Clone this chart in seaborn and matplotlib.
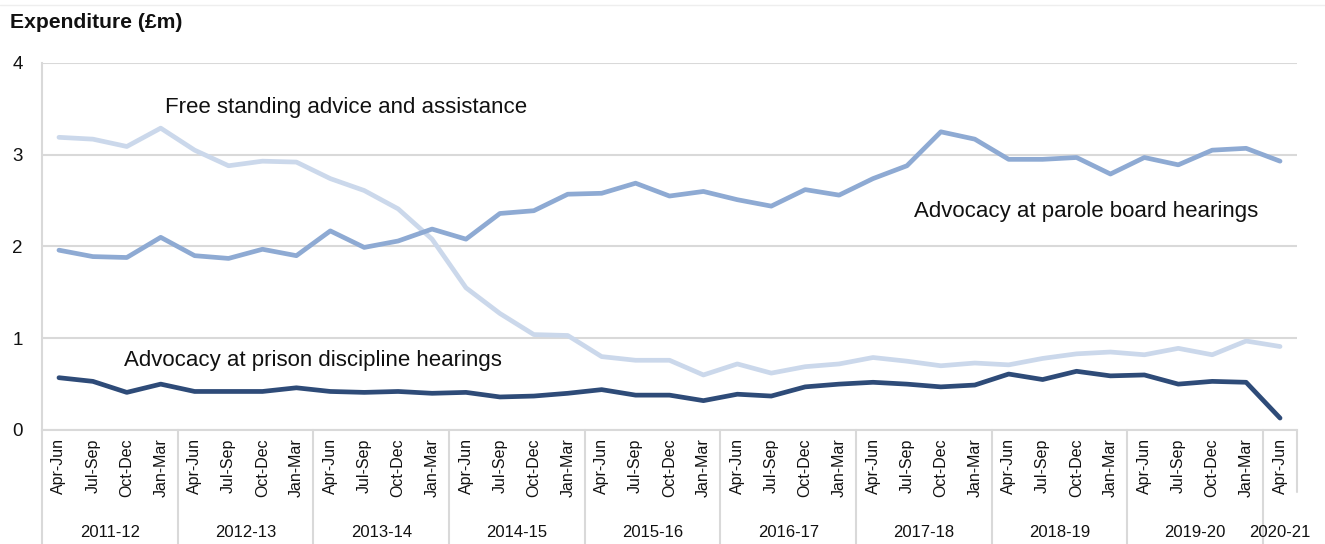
import matplotlib.pyplot as plt
import numpy as np
import pandas as pd
import seaborn as sns
from matplotlib.lines import Line2D

# quarterly expenditure, £m (Apr-Jun 2011 to Apr-Jun 2020)
quarters = ["Apr-Jun", "Jul-Sep", "Oct-Dec", "Jan-Mar"] * 9 + ["Apr-Jun"]
years = ["2011-12", "2012-13", "2013-14", "2014-15", "2015-16",
         "2016-17", "2017-18", "2018-19", "2019-20", "2020-21"]

free_standing = [3.19, 3.17, 3.09, 3.29, 3.05, 2.88, 2.93, 2.92,
                 2.74, 2.61, 2.41, 2.08, 1.55, 1.27, 1.04, 1.03,
                 0.80, 0.76, 0.76, 0.60, 0.72, 0.62, 0.69, 0.72,
                 0.79, 0.75, 0.70, 0.73, 0.71, 0.78, 0.83, 0.85,
                 0.82, 0.89, 0.82, 0.97, 0.91]
parole = [1.96, 1.89, 1.88, 2.10, 1.90, 1.87, 1.97, 1.90,
          2.17, 1.99, 2.06, 2.19, 2.08, 2.36, 2.39, 2.57,
          2.58, 2.69, 2.55, 2.60, 2.51, 2.44, 2.62, 2.56,
          2.74, 2.88, 3.25, 3.17, 2.95, 2.95, 2.97, 2.79,
          2.97, 2.89, 3.05, 3.07, 2.93]
prison = [0.57, 0.53, 0.41, 0.50, 0.42, 0.42, 0.42, 0.46,
          0.42, 0.41, 0.42, 0.40, 0.41, 0.36, 0.37, 0.40,
          0.44, 0.38, 0.38, 0.32, 0.39, 0.37, 0.47, 0.50,
          0.52, 0.50, 0.47, 0.49, 0.61, 0.55, 0.64, 0.59,
          0.60, 0.50, 0.53, 0.52, 0.13]

names = ["Free standing advice and assistance",
         "Advocacy at parole board hearings",
         "Advocacy at prison discipline hearings"]
colours = {names[0]: "#cbd8eb", names[1]: "#8eaad3", names[2]: "#2e4b78"}

n = len(quarters)
df = pd.DataFrame({
    "q": np.tile(np.arange(n), 3),
    "value": free_standing + parole + prison,
    "series": np.repeat(names, n),
})

sns.set_theme(style="white")
plt.rcParams["font.family"] = ["Liberation Sans", "DejaVu Sans"]
grey = "#d9d9d9"

fig = plt.figure(figsize=(13.25, 5.44), dpi=100)
ax = fig.add_axes([42 / 1325, 1 - 430 / 544, 1255 / 1325, 367 / 544])

sns.lineplot(data=df, x="q", y="value", hue="series", palette=colours,
             linewidth=3.4, legend=False, ax=ax, zorder=3)

ax.set_xlim(-0.5, n - 0.5)
ax.set_ylim(0, 4)
ax.set_yticks([0, 1, 2, 3, 4])
ax.set_yticklabels(["0", "1", "2", "3", "4"], fontsize=13.5, color="#111111")
ax.yaxis.grid(True, color=grey, linewidth=1.5)
ax.set_axisbelow(True)
ax.set_xticks(np.arange(n))
ax.set_xticklabels(quarters, rotation=90, fontsize=11.5, va="top", color="#111111")
ax.tick_params(axis="x", length=0, pad=6)
ax.tick_params(axis="y", length=0, pad=14)
ax.set_xlabel("")
ax.set_ylabel("")
for side in ["top", "right"]:
    ax.spines[side].set_visible(False)
for side in ["left", "bottom"]:
    ax.spines[side].set_color(grey)
    ax.spines[side].set_linewidth(1.5)

# year group separators and labels under the quarter labels
trans = ax.get_xaxis_transform()
for k in range(len(years) + 1):
    xs = min(4 * k, n) - 0.5
    bottom = -0.17 if xs == n - 0.5 else -0.32
    ax.add_line(Line2D([xs, xs], [0, bottom], transform=trans,
                       color=grey, linewidth=1.5, clip_on=False))
for k, yr in enumerate(years):
    first = 4 * k
    last = min(4 * k + 3, n - 1)
    ax.text((first + last) / 2, -0.28, yr, transform=trans,
            ha="center", va="center", fontsize=12, color="#111111")

# series labels
ax.text(3.13, 3.52, names[0], fontsize=16, va="center", color="#111111")
ax.text(25.2, 2.38, names[1], fontsize=16, va="center", color="#111111")
ax.text(1.92, 0.76, names[2], fontsize=16, va="center", color="#111111")

fig.text(10 / 1325, 1 - 22 / 544, "Expenditure (£m)", fontsize=15.2,
         fontweight="bold", va="center", ha="left", color="#111111")
fig.add_artist(Line2D([0, 1], [1 - 5 / 544, 1 - 5 / 544],
                      transform=fig.transFigure, color="#eeeeee", linewidth=1))

fig.savefig("out.png", dpi=100)
